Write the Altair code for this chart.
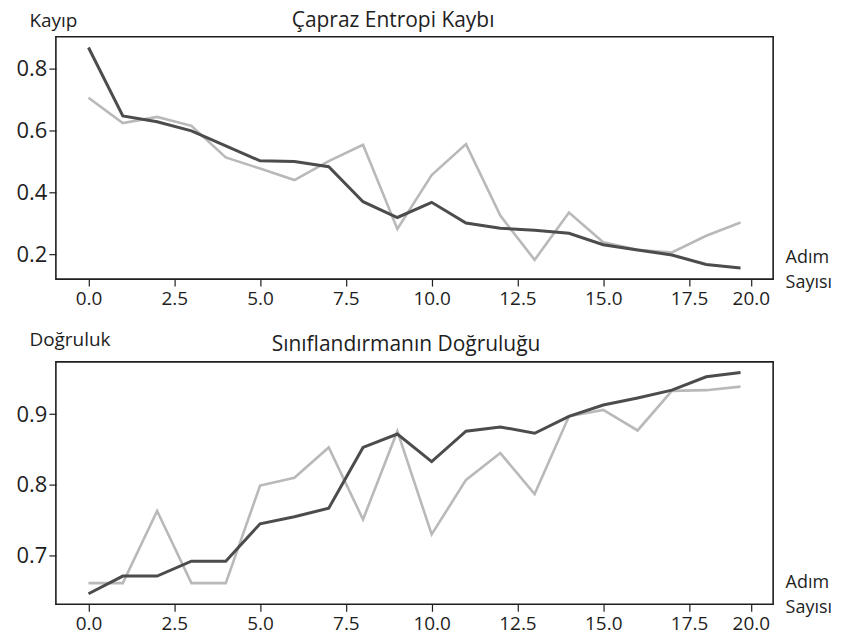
import altair as alt
import pandas as pd

# ---- data ----
steps = list(range(20))
loss_dark = [0.868, 0.647, 0.628, 0.599, 0.550, 0.502, 0.500, 0.483, 0.370, 0.319,
             0.368, 0.301, 0.284, 0.278, 0.268, 0.231, 0.214, 0.198, 0.167, 0.156]
loss_light = [0.706, 0.624, 0.644, 0.615, 0.513, 0.477, 0.440, 0.501, 0.554, 0.282,
              0.456, 0.556, 0.325, 0.182, 0.335, 0.239, 0.215, 0.206, 0.260, 0.303]
acc_dark = [0.646, 0.671, 0.671, 0.692, 0.692, 0.745, 0.755, 0.767, 0.853, 0.872,
            0.833, 0.876, 0.882, 0.873, 0.897, 0.913, 0.923, 0.934, 0.953, 0.959]
acc_light = [0.661, 0.661, 0.763, 0.661, 0.661, 0.799, 0.810, 0.853, 0.751, 0.876,
             0.730, 0.807, 0.845, 0.787, 0.897, 0.906, 0.877, 0.933, 0.934, 0.939]

x_tick_values = [0, 2.5, 5, 7.5, 10, 12.5, 15, 17.5, 19.3]
x_tick_labels = ["0.0", "2.5", "5.0", "7.5", "10.0", "12.5", "15.0", "17.5", "20.0"]
loss_ticks = [0.2, 0.4, 0.6, 0.8]
acc_ticks = [0.7, 0.8, 0.9]

DARK = "#4c4c4c"
LIGHT = "#b9b9b9"
FONT = "Open Sans"
TXT = "#1e1e1e"
W, H = 719, 243

label_expr = "''"
for v, t in zip(x_tick_values, x_tick_labels):
    label_expr = f"abs(datum.value - {v}) < 0.01 ? '{t}' : ({label_expr})"


def panel(dark, light, ydomain, yticks, title, ytitle, title_cx, title_y, ytitle_y):
    df = pd.DataFrame({"step": steps, "dark": dark, "light": light})
    x = alt.X("step:Q",
              scale=alt.Scale(domain=[-0.95, 19.95], nice=False, zero=False),
              axis=alt.Axis(values=x_tick_values, labelExpr=label_expr, grid=False,
                            domain=False, tickSize=7, tickColor=TXT, tickWidth=1.2,
                            labelFontSize=19, labelPadding=3, labelColor=TXT,
                            labelFont=FONT, labelFlush=False,
                            title=["Adım", "Sayısı"], titleAngle=0, titleAlign="left",
                            titleBaseline="top", titleX=W + 12, titleY=-31,
                            titleFontSize=18, titleFontWeight="normal",
                            titleLineHeight=25, titleFont=FONT, titleColor=TXT))
    yax = alt.Axis(values=yticks, format=".1f", grid=False, domain=False, tickSize=7,
                   tickColor=TXT, tickWidth=1.2, labelFontSize=22, labelPadding=2,
                   labelColor=TXT, labelFont=FONT,
                   title=ytitle, titleAngle=0, titleAlign="left",
                   titleBaseline="alphabetic", titleX=-27, titleY=ytitle_y,
                   titleFontSize=19, titleFontWeight="normal", titleFont=FONT,
                   titleColor=TXT)
    ysc = alt.Scale(domain=ydomain, nice=False, zero=False)
    l1 = alt.Chart(df).mark_line(color=LIGHT, strokeWidth=2.6).encode(
        x=x, y=alt.Y("light:Q", scale=ysc, axis=yax))
    l2 = alt.Chart(df).mark_line(color=DARK, strokeWidth=3).encode(
        x=x, y=alt.Y("dark:Q", scale=ysc, axis=yax))
    t = alt.Chart(pd.DataFrame({"t": [title]})).mark_text(
        fontSize=21, font=FONT, color=TXT, align="center", baseline="alphabetic"
    ).encode(x=alt.value(title_cx), y=alt.value(title_y), text="t:N")
    return alt.layer(l1, l2, t).properties(width=W, height=H)


top = panel(loss_dark, loss_light, [0.12, 0.903], loss_ticks,
            "Çapraz Entropi Kaybı", "Kayıp", 338, -10, -10)
bottom = panel(acc_dark, acc_light, [0.631, 0.974], acc_ticks,
               "Sınıflandırmanın Doğruluğu", "Doğruluk", 351, -11, -16)

chart = alt.vconcat(top, bottom, spacing=83, bounds="flush").properties(
    padding={"left": 7, "top": 0, "right": 0, "bottom": 0}
).configure(background="white").configure_view(stroke=TXT, strokeWidth=1.6)

chart.save("out.html", embed_options={"renderer": "svg", "actions": False})
